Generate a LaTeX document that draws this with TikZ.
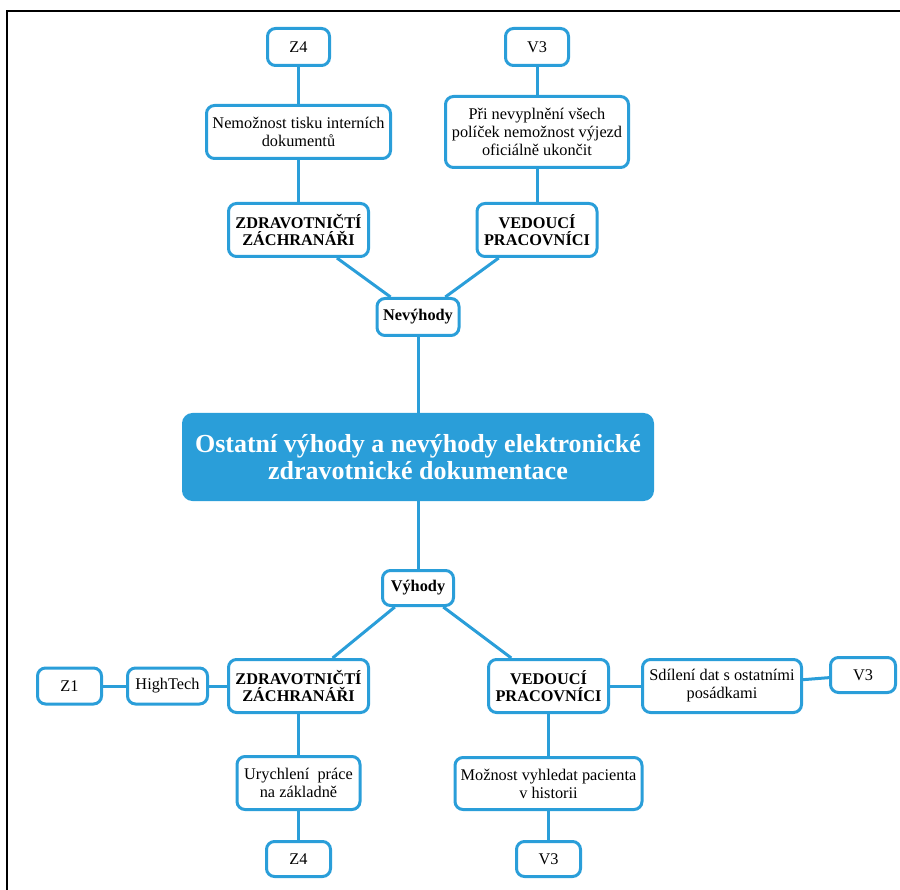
\documentclass[tikz,border=0pt]{standalone}
\usepackage{fontspec}
\setmainfont{Liberation Serif}
\definecolor{mapblue}{RGB}{42,158,217}
\begin{document}
\begin{tikzpicture}[x=1pt,y=-1pt,
  box/.style={draw=mapblue, line width=3pt, rounded corners=8pt, fill=white,
    align=center, inner sep=1pt, font=\fontsize{16.3}{18}\selectfont},
  boldbox/.style={box, font=\fontsize{16.3}{17}\selectfont\bfseries},
  mainbox/.style={draw=mapblue, line width=3pt, rounded corners=9pt, fill=mapblue,
    text=white, align=center, inner sep=1pt, font=\fontsize{26}{27.5}\selectfont\bfseries},
  link/.style={draw=mapblue, line width=3pt},
  sz/.style 2 args={minimum width=#1, minimum height=#2}]
\useasboundingbox (0,0) rectangle (900,890);
% page frame
\draw[line width=2pt] (7,890) -- (7,11) -- (900,11);

% centre
\node[mainbox, sz={469pt}{85pt}] (main) at (418,457)
  {Ostatní výhody a nevýhody elektronické\\zdravotnické dokumentace};

% disadvantages branch
\node[boldbox, sz={82pt}{37pt}] (nev) at (418,317) {Nevýhody};
\node[boldbox, sz={140pt}{53pt}] (zz1) at (298.5,230) {ZDRAVOTNIČTÍ\\ZÁCHRANÁŘI};
\node[boldbox, sz={120pt}{53pt}] (vp1) at (537,230) {VEDOUCÍ\\PRACOVNÍCI};
\node[box, sz={184pt}{53pt}] (tisk) at (298.5,132) {Nemožnost tisku interních\\dokumentů};
\node[box, sz={183pt}{71pt}] (pole) at (537,132) {Při nevyplnění všech\\políček nemožnost výjezd\\oficiálně ukončit};
\node[box, sz={62pt}{37pt}] (z4a) at (298.5,47) {Z4};
\node[box, sz={63pt}{37pt}] (v3a) at (537,47) {V3};

% advantages branch
\node[boldbox, sz={71pt}{35pt}] (vyh) at (418,588) {Výhody};
\node[boldbox, sz={140pt}{53pt}] (zz2) at (298.5,686) {ZDRAVOTNIČTÍ\\ZÁCHRANÁŘI};
\node[boldbox, sz={120pt}{53pt}] (vp2) at (548.5,686) {VEDOUCÍ\\PRACOVNÍCI};
\node[box, sz={80pt}{36pt}] (ht) at (167.5,686) {HighTech};
\node[box, sz={64pt}{36pt}] (z1) at (69.5,686) {Z1};
\node[box, sz={123pt}{53pt}] (ury) at (298.5,783) {Urychlení\ \ práce\\na základně};
\node[box, sz={64pt}{35pt}] (z4b) at (298.5,859) {Z4};
\node[box, sz={159pt}{53pt}] (sdil) at (722,686) {Sdílení dat s ostatními\\posádkami};
\node[box, sz={65pt}{35pt}] (v3r) at (863,675) {V3};
\node[box, sz={187pt}{52pt}] (hist) at (548.5,783.5) {Možnost vyhledat pacienta\\v historii};
\node[box, sz={64pt}{35pt}] (v3b) at (548.5,859) {V3};

% connectors
\draw[link] (nev) -- (main);
\draw[link] (main) -- (vyh);
\draw[link] (nev) -- (zz1);
\draw[link] (nev) -- (vp1);
\draw[link] (zz1) -- (tisk);
\draw[link] (tisk) -- (z4a);
\draw[link] (vp1) -- (pole);
\draw[link] (pole) -- (v3a);
\draw[link] (vyh) -- (zz2);
\draw[link] (vyh) -- (vp2);
\draw[link] (zz2) -- (ht);
\draw[link] (ht) -- (z1);
\draw[link] (zz2) -- (ury);
\draw[link] (ury) -- (z4b);
\draw[link] (vp2) -- (sdil);
\draw[link] (sdil) -- (v3r);
\draw[link] (vp2) -- (hist);
\draw[link] (hist) -- (v3b);
\end{tikzpicture}
\end{document}
